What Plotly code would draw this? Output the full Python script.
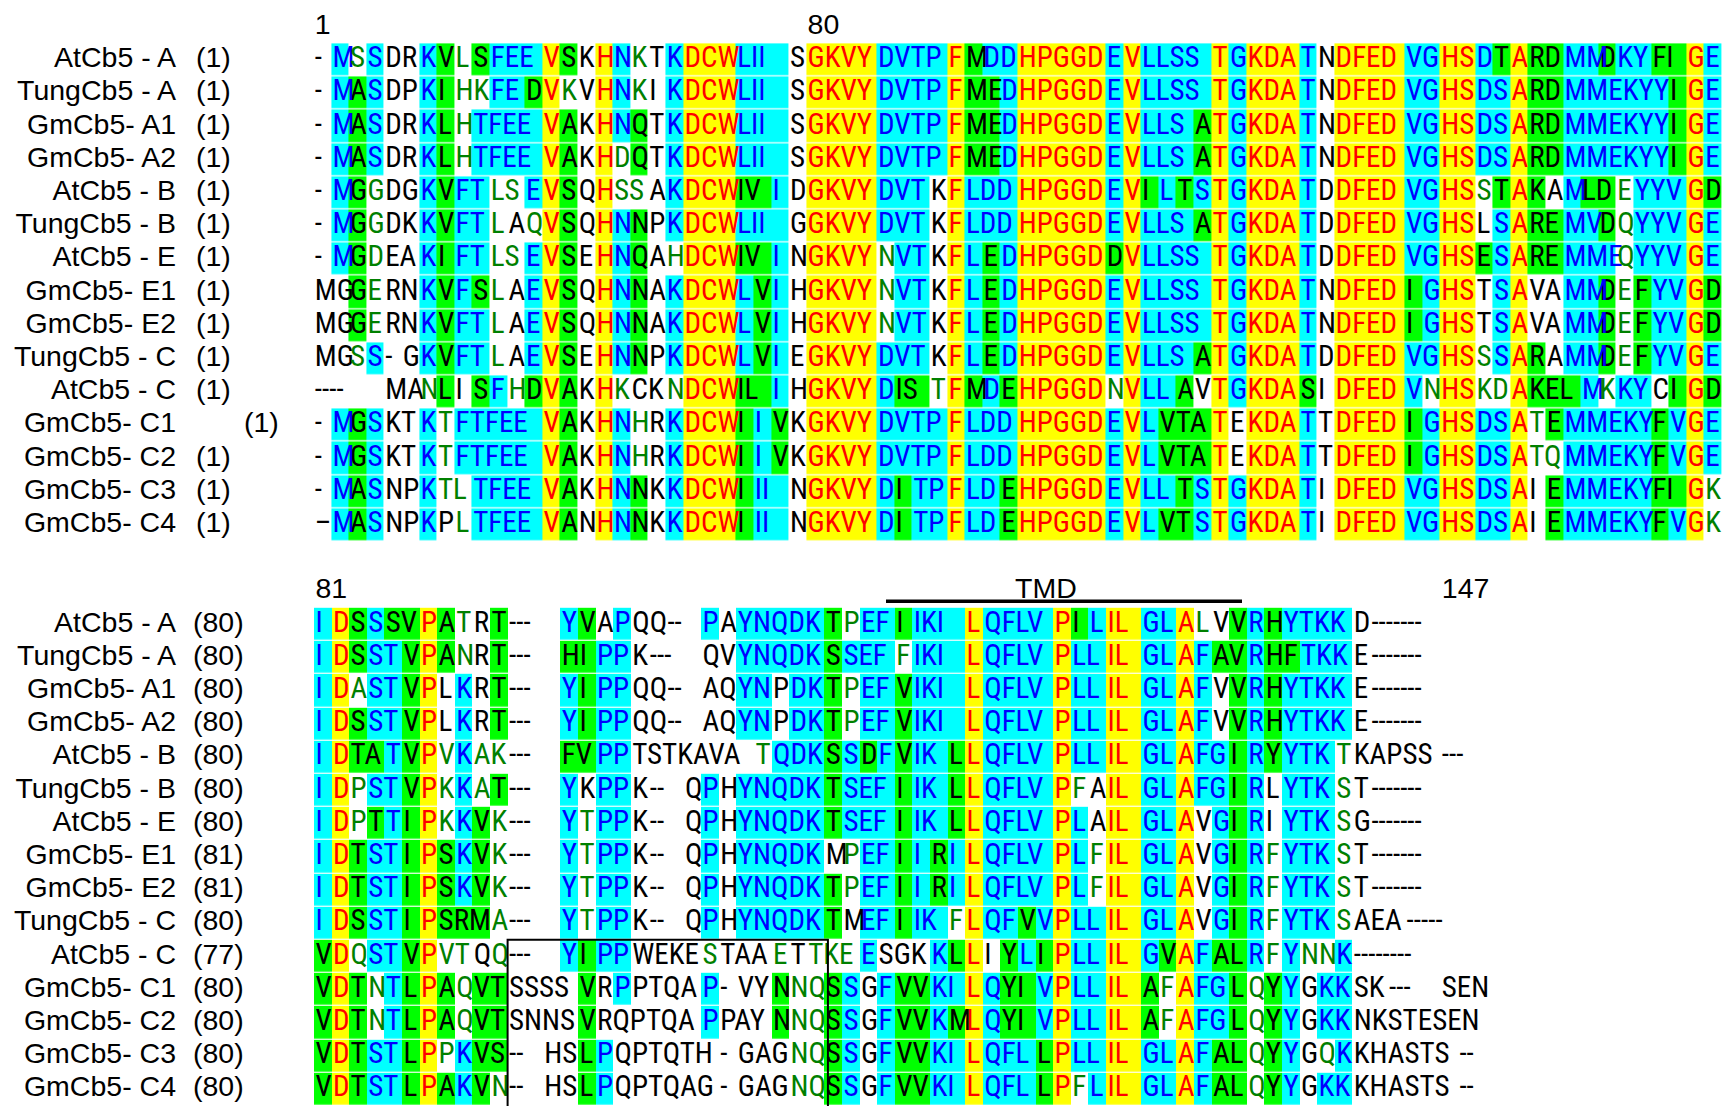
import plotly.graph_objects as go

# ---------------- data ----------------
names = ["AtCb5 - A", "TungCb5 - A", "GmCb5- A1", "GmCb5- A2", "AtCb5 - B",
         "TungCb5 - B", "AtCb5 - E", "GmCb5- E1", "GmCb5- E2", "TungCb5 - C",
         "AtCb5 - C", "GmCb5- C1", "GmCb5- C2", "GmCb5- C3", "GmCb5- C4"]
start1 = ["(1)"] * 15
start2 = ["(80)"] * 7 + ["(81)", "(81)", "(80)", "(77)", "(80)", "(80)", "(80)", "(80)"]

block1_ticks = ["1", "80"]
block1_tick_cols = [0, 28]
block2_ticks = ["81", "147"]
block2_tick_cols = [0, 64]
tmd_label = "TMD"

# residues, block 1 (alignment positions 1-80)
seq1 = [
    "-MSSDRKVLS" "FEEVSKHNKT" "KDCWLIISGK" "VYDVTPFMDD" "HPGGDEVLLS" "STGKDATNDF" "EDVGHSDTAR" "DMMDKYFIGE",
    "-MASDPKIHK" "FEDVKVHNKI" "KDCWLIISGK" "VYDVTPFMED" "HPGGDEVLLS" "STGKDATNDF" "EDVGHSDSAR" "DMMEKYYIGE",
    "-MASDRKLHT" "FEEVAKHNQT" "KDCWLIISGK" "VYDVTPFMED" "HPGGDEVLLS" "ATGKDATNDF" "EDVGHSDSAR" "DMMEKYYIGE",
    "-MASDRKLHT" "FEEVAKHDQT" "KDCWLIISGK" "VYDVTPFMED" "HPGGDEVLLS" "ATGKDATNDF" "EDVGHSDSAR" "DMMEKYYIGE",
    "-MGGDGKVFT" "LSEVSQHSSA" "KDCWIVIDGK" "VYDVTKFLDD" "HPGGDEVILT" "STGKDATDDF" "EDVGHSSTAK" "AMLDEYYVGD",
    "-MGGDKKVFT" "LAQVSQHNNP" "KDCWLIIGGK" "VYDVTKFLDD" "HPGGDEVLLS" "ATGKDATDDF" "EDVGHSLSAR" "EMVDQYYVGE",
    "-MGDEAKIFT" "LSEVSEHNQA" "HDCWIVINGK" "VYNVTKFLED" "HPGGDDVLLS" "STGKDATDDF" "EDVGHSESAR" "EMMEQYYVGE",
    "MGGERNKVFS" "LAEVSQHNNA" "KDCWLVIHGK" "VYNVTKFLED" "HPGGDEVLLS" "STGKDATNDF" "EDIGHSTSAV" "AMMDEFYVGD",
    "MGGERNKVFT" "LAEVSQHNNA" "KDCWLVIHGK" "VYNVTKFLED" "HPGGDEVLLS" "STGKDATNDF" "EDIGHSTSAV" "AMMDEFYVGD",
    "MGSS-GKVFT" "LAEVSEHNNP" "KDCWLVIEGK" "VYDVTKFLED" "HPGGDEVLLS" "ATGKDATDDF" "EDVGHSSSAR" "AMMDEFYVGE",
    "----MANLIS" "FHDVAKHKCK" "NDCWILIHGK" "VYDISTFMDE" "HPGGDNVLLA" "VTGKDASIDF" "EDVNHSKDAK" "ELMKKYCIGD",
    "-MGSKTKTFT" "FEEVAKHNHR" "KDCWIIVKGK" "VYDVTPFLDD" "HPGGDEVLVT" "ATEKDATTDF" "EDIGHSDSAT" "EMMEKYFVGE",
    "-MGSKTKTFT" "FEEVAKHNHR" "KDCWIIVKGK" "VYDVTPFLDD" "HPGGDEVLVT" "ATEKDATTDF" "EDIGHSDSAT" "QMMEKYFVGE",
    "-MASNPKTLT" "FEEVAKHNNK" "KDCWIIINGK" "VYDITPFLDE" "HPGGDEVLLT" "STGKDATIDF" "EDVGHSDSAI" "EMMEKYFIGK",
    "\u2013MASNPKPLT" "FEEVANHNNK" "KDCWIIINGK" "VYDITPFLDE" "HPGGDEVLVT" "STGKDATIDF" "EDVGHSDSAI" "EMMEKYFVGK",
]
# shading class per residue: Y identical, C conserved, G similar, g weak (green text), w none
cls1 = [
    "wCgCwwCGgG" "CCCYGwYCgw" "CYYYCCCwYY" "YYCCCCYGCC" "YYYYYCYCCC" "CYCYYYCwYY" "YYCCYYCGYG" "GCCGCCGGYC",
    "wCGCwwCGgg" "CCGYgwYCgw" "CYYYCCCwYY" "YYCCCCYGGC" "YYYYYCYCCC" "CYCYYYCwYY" "YYCCYYCCYG" "GCCCCCCGYC",
    "wCGCwwCGgC" "CCCYGwYCGw" "CYYYCCCwYY" "YYCCCCYGGC" "YYYYYCYCCC" "GYCYYYCwYY" "YYCCYYCCYG" "GCCCCCCGYC",
    "wCGCwwCGgC" "CCCYGwYgGw" "CYYYCCCwYY" "YYCCCCYGGC" "YYYYYCYCCC" "GYCYYYCwYY" "YYCCYYCCYG" "GCCCCCCGYC",
    "wCGgwwCGCC" "ggCYGwYggw" "CYYYGGCwYY" "YYCCCwYCCC" "YYYYYCYGCG" "CYCYYYCwYY" "YYCCYYgGYG" "wCGGgCCCYG",
    "wCGgwwCGCC" "gwgYGwYCGw" "CYYYCCCwYY" "YYCCCwYCCC" "YYYYYCYCCC" "GYCYYYCwYY" "YYCCYYwCYG" "GCCGgCCCYC",
    "wCGgwwCGCC" "ggCYGwYCGw" "gYYYGGCwYY" "YYgCCwYCGC" "YYYYYGYCCC" "CYCYYYCwYY" "YYCCYYGCYG" "GCCCgCCCYC",
    "wwGgwwCGCG" "gwCYGwYCGw" "CYYYCGCwYY" "YYgCCwYCGC" "YYYYYCYCCC" "CYCYYYCwYY" "YYGCYYwCYw" "wCCGgGCCYG",
    "wwGgwwCGCC" "gwCYGwYCGw" "CYYYCGCwYY" "YYgCCwYCGC" "YYYYYCYCCC" "CYCYYYCwYY" "YYGCYYwCYw" "wCCGgGCCYG",
    "wwgCwwCGCC" "gwCYGwYCGw" "CYYYCGCwYY" "YYCCCwYCGC" "YYYYYCYCCC" "GYCYYYCwYY" "YYCCYYgCYG" "wCCGgGCCYC",
    "wwwwwwgGwG" "CgGYGwYgww" "gYYYGGCwYY" "YYCGGgYGCG" "YYYYYgYCCG" "wYCYYYGwYY" "YYCgYYggYG" "GGCgCCwGYG",
    "wCGCwwCgCC" "CCCYGwYCgw" "CYYYGCGwYY" "YYCCCCYCCC" "YYYYYCYCGG" "GYwYYYCwYY" "YYGCYYCCYg" "GCCCCCGCYC",
    "wCGCwwCgCC" "CCCYGwYCgw" "CYYYGCGwYY" "YYCCCCYCCC" "YYYYYCYCGG" "GYwYYYCwYY" "YYGCYYCCYg" "gCCCCCGCYC",
    "wCGCwwCggC" "CCCYGwYCGw" "CYYYGCCwYY" "YYCGCCYCCG" "YYYYYCYCCG" "CYCYYYCwYY" "YYCCYYCCYw" "GCCCCCGGYg",
    "wCGCwwCwgC" "CCCYGwYCGw" "CYYYGCCwYY" "YYCGCCYCCG" "YYYYYCYCGG" "CYCYYYCwYY" "YYCCYYCCYw" "GCCCCCGCYg",
]
# residues, block 2 (alignment positions 81-147)
seq2 = [
    "IDSSSVPATR" "T---YVAPQQ" "--PAYNQDKT" "PEFIIKILQF" "LVPILILGLA" "LVVRHYTKKD" "-------",
    "IDSSTVPANR" "T---HIPPK-" "--QVYNQDKS" "SEFFIKILQF" "LVPLLILGLA" "FAVRHFTKKE" "-------",
    "IDASTVPLKR" "T---YIPPQQ" "--AQYNPDKT" "PEFVIKILQF" "LVPLLILGLA" "FVVRHYTKKE" "-------",
    "IDSSTVPLKR" "T---YIPPQQ" "--AQYNPDKT" "PEFVIKILQF" "LVPLLILGLA" "FVVRHYTKKE" "-------",
    "IDTATVPVKA" "K---FVPPTS" "TKAVATQDKS" "SDFVIKLLQF" "LVPLLILGLA" "FGIRYYTKTK" "APSS---",
    "IDPSTVPKKA" "T---YKPPK-" "-QPHYNQDKT" "SEFIIKLLQF" "LVPFAILGLA" "FGIRLYTKST" "-------",
    "IDPTTIPKKV" "K---YTPPK-" "-QPHYNQDKT" "SEFIIKLLQF" "LVPLAILGLA" "VGIRIYTKSG" "-------",
    "IDTSTIPSKV" "K---YTPPK-" "-QPHYNQDKM" "PEFIIRILQF" "LVPLFILGLA" "VGIRFYTKST" "-------",
    "IDTSTIPSKV" "K---YTPPK-" "-QPHYNQDKT" "PEFIIRILQF" "LVPLFILGLA" "VGIRFYTKST" "-------",
    "IDSSTIPSRM" "A---YTPPK-" "-QPHYNQDKT" "MEFIIKFLQF" "VVPLLILGLA" "VGIRFYTKSA" "EA-----",
    "VDQSTVPVTQ" "Q---YIPPWE" "KESTAAETTK" "EESGKKLLIY" "LIPLLILGVA" "FALRFYNNK-" "-------",
    "VDTNTLPAQV" "TSSSSVRPPT" "QAP-VYNNQS" "SGFVVKILQY" "IVPLLILAFA" "FGLQYYGKKS" "K---SEN",
    "VDTNTLPAQV" "TSNNSVRQPT" "QAPPAYNNQS" "SGFVVKMLQY" "IVPLLILAFA" "FGLQYYGKKN" "KSTESEN",
    "VDTSTLPPKV" "S--HSLPQPT" "QTH-GAGNQS" "SGFVVKILQF" "LLPLLILGLA" "FALQYYGQKK" "HASTS--",
    "VDTSTLPAKV" "N--HSLPQPT" "QAG-GAGNQS" "SGFVVKILQF" "LLPFLILGLA" "FALQYYGKKK" "HASTS--",
]
cls2 = [
    "CYGCGGYGgw" "GwwwCGwCww" "wwCwCCCCCG" "gCCGCCCYCC" "CCYGCYYCCY" "gwGCGCCCCw" "wwwwwww",
    "CYGCCGYGgw" "GwwwGGCCww" "wwwwCCCCCG" "CCCgCCCYCC" "CCYCCYYCCY" "CGGCGGCCCw" "wwwwwww",
    "CYgCCGYwCw" "GwwwCGCCww" "wwwwCCwCCG" "gCCGCCCYCC" "CCYCCYYCCY" "CwGCGCCCCw" "wwwwwww",
    "CYGCCGYwCw" "GwwwCGCCww" "wwwwCCwCCG" "gCCGCCCYCC" "CCYCCYYCCY" "CwGCGCCCCw" "wwwwwww",
    "CYGGCGYgCg" "gwwwGGCCww" "wwwwwgCCCG" "CGCGCCGYCC" "CCYCCYYCCY" "CCGCGCCCgw" "wwwwwww",
    "CYgCCGYgCg" "GwwwCwCCww" "wwCwCCCCCG" "CCCGCCGYCC" "CCYgwYYCCY" "CCGCwCCCgw" "wwwwwww",
    "CYgGCGYgCG" "gwwwCgCCww" "wwCwCCCCCG" "CCCGCCGYCC" "CCYCwYYCCY" "wCGCwCCCgw" "wwwwwww",
    "CYGCCGYGCG" "gwwwCgCCww" "wwCwCCCCCw" "gCCGCGCYCC" "CCYCgYYCCY" "wCGCgCCCgw" "wwwwwww",
    "CYGCCGYGCG" "gwwwCgCCww" "wwCwCCCCCG" "gCCGCGCYCC" "CCYCgYYCCY" "wCGCgCCCgw" "wwwwwww",
    "CYGCCGYGGG" "gwwwCgCCww" "wwCwCCCCCG" "wCCGCCgYCC" "GCYCCYYCCY" "wCGCgCCCgw" "wwwwwww",
    "GYgCCGYggw" "gwwwCGCCww" "wwgwwwgwgg" "gCwwwCGYwG" "CGYCCYYCGY" "CGGCgCggCw" "wwwwwww",
    "GYGgCGYGgG" "GwwwwGwCww" "wwCwwwGggG" "CwCGGCCYCG" "GCYCCYYGgY" "CCGgGCwCCw" "wwwwwww",
    "GYGgCGYGgG" "GwwwwGwwww" "wwCwwwGggG" "CwCGGCGYCG" "GCYCCYYGgY" "CCGgGCwCCw" "wwwwwww",
    "GYGCCGYgCG" "GwwwwGCwww" "wwwwwwwggG" "CwCGGCCYCC" "CGYCCYYCCY" "CGGgGCwgCw" "wwwwwww",
    "GYGCCGYGCG" "gwwwwGCwww" "wwwwwwwggG" "CwCGGCCYCC" "CGYgCYYCCY" "CGGgGCwCCw" "wwwwwww",
]

# ---------------- style ----------------
W, H = 1727, 1106
CELL_W, CELL_H = 17.6, 33.2
X0, Y0 = 313.4, 60.0          # left edge of column 0 / centre of first row (px)
B2_ROW0 = 17                  # row index where block 2 starts
B2_XOFF = 0.034
FONT = "Liberation Sans Narrow, Arial Narrow, Roboto Condensed, Roboto, sans-serif"
LFONT = "Liberation Sans, Arial, sans-serif"
FS = 29
LFS = 28.5
BGV = {"w": 0, "g": 0, "C": 1, "Y": 2, "G": 3}
FGC = {"w": "#000000", "g": "#008000", "C": "#0000FF", "Y": "#FF0000", "G": "#000000"}
colorscale = [[0, "#FFFFFF"], [0.25, "#FFFFFF"], [0.25, "#00FFFF"], [0.5, "#00FFFF"],
              [0.5, "#FFFF00"], [0.75, "#FFFF00"], [0.75, "#00FF00"], [1, "#00FF00"]]

for s, c in zip(seq1, cls1):
    assert len(s) == 80 and len(c) == 80, (s, len(s), len(c))
for s, c in zip(seq2, cls2):
    assert len(s) == 67 and len(c) == 67, (s, len(s), len(c))

fig = go.Figure()

texts = {}  # colour -> (x, y, text)


def add_block(seqs, clss, row0, xoff):
    ncol = len(seqs[0])
    z = [[BGV[ch] for ch in c] for c in clss]
    fig.add_trace(go.Heatmap(
        z=z, x=[k + 0.5 + xoff for k in range(ncol)], y=[row0 + r for r in range(len(seqs))],
        colorscale=colorscale, zmin=0, zmax=3, showscale=False, ygap=1.2, hoverinfo="skip"))
    for r, (s, c) in enumerate(zip(seqs, clss)):
        k = 0
        while k < ncol:
            j = k
            gap = s[k] in "-\u2013"
            while j + 1 < ncol and c[j + 1] == c[k] and ((s[j + 1] in "-\u2013") == gap):
                j += 1
            col = FGC[c[k]]
            bucket = texts.setdefault(col, ([], [], []))
            bucket[0].append(k + 0.08 + xoff)
            bucket[1].append(row0 + r)
            bucket[2].append(s[k:j + 1])
            k = j + 1


add_block(seq1, cls1, 0, 0.0)
add_block(seq2, cls2, B2_ROW0, B2_XOFF)

for col, (xs, ys, ts) in texts.items():
    fig.add_trace(go.Scatter(x=xs, y=ys, text=ts, mode="text", textposition="middle right",
                             textfont=dict(family=FONT, size=FS, color=col), hoverinfo="skip",
                             showlegend=False))

# row labels
nrows = len(names)
name_x = (176 - X0) / CELL_W
num_x = (196 - X0) / CELL_W
num2_x = (193 - X0) / CELL_W
c1_x = (244 - X0) / CELL_W
fig.add_trace(go.Scatter(
    x=[name_x] * nrows * 2, y=list(range(nrows)) + [B2_ROW0 + r for r in range(nrows)],
    text=names + names, mode="text", textposition="middle left",
    textfont=dict(family=LFONT, size=LFS, color="black"), hoverinfo="skip", showlegend=False))
fig.add_trace(go.Scatter(
    x=[c1_x if n == "GmCb5- C1" else num_x for n in names] + [num2_x] * nrows,
    y=list(range(nrows)) + [B2_ROW0 + r for r in range(nrows)],
    text=start1 + start2, mode="text", textposition="middle right",
    textfont=dict(family=LFONT, size=LFS, color="black"), hoverinfo="skip", showlegend=False))

# position ticks
fig.add_trace(go.Scatter(
    x=[c + 0.08 for c in block1_tick_cols] + [c + 0.08 + B2_XOFF for c in block2_tick_cols],
    y=[-1.0] * len(block1_tick_cols) + [B2_ROW0 - 1.0] * len(block2_tick_cols),
    text=block1_ticks + block2_ticks, mode="text", textposition="middle right",
    textfont=dict(family=LFONT, size=LFS, color="black"), hoverinfo="skip", showlegend=False))

# TMD bar
tmd_x0, tmd_x1 = (886 - X0) / CELL_W, (1242 - X0) / CELL_W
fig.add_shape(type="line", x0=tmd_x0, x1=tmd_x1, y0=B2_ROW0 - 0.70, y1=B2_ROW0 - 0.70,
              line=dict(color="black", width=3.5))
fig.add_annotation(x=(1046 - X0) / CELL_W, y=B2_ROW0 - 0.70, text=tmd_label, showarrow=False,
                   yanchor="bottom", font=dict(family=LFONT, size=LFS, color="black"), yshift=-5)

# boxed region in block 2
fig.add_shape(type="rect", x0=11 + B2_XOFF, x1=29.2 + B2_XOFF, y0=B2_ROW0 + 9.5, y1=B2_ROW0 + 15.2,
              line=dict(color="black", width=2), fillcolor="rgba(0,0,0,0)")

fig.update_layout(
    width=W, height=H, margin=dict(l=0, r=0, t=0, b=0),
    paper_bgcolor="white", plot_bgcolor="white", showlegend=False,
    xaxis=dict(range=[-X0 / CELL_W, (W - X0) / CELL_W], visible=False, fixedrange=True),
    yaxis=dict(range=[(H - Y0) / CELL_H, -Y0 / CELL_H], visible=False, fixedrange=True),
)
fig.write_html("out.html", config={"displayModeBar": False},
               post_script="document.body.style.margin='0px';document.body.style.overflow='hidden';")
